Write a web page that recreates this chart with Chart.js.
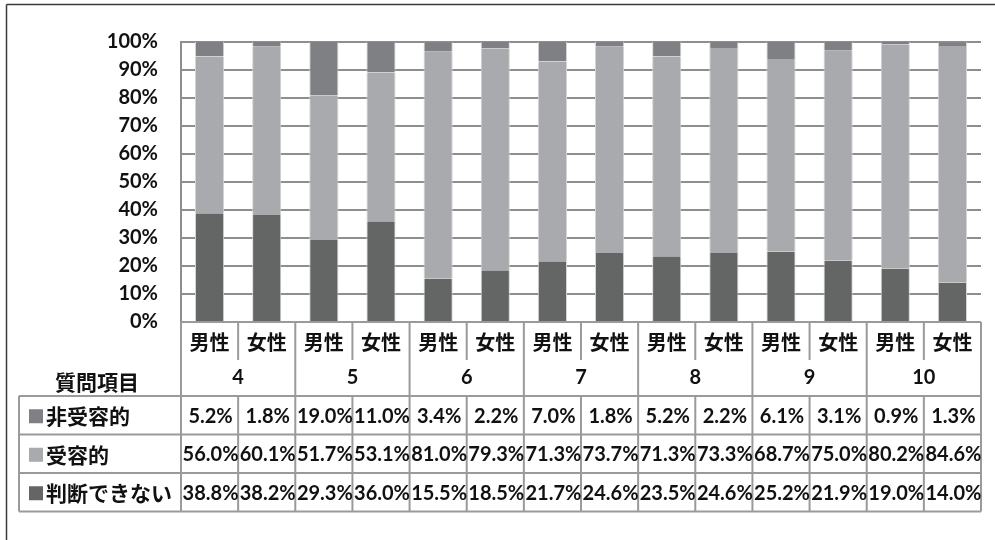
<!DOCTYPE html>
<html lang="ja">
<head>
<meta charset="utf-8">
<script src="https://cdn.jsdelivr.net/npm/chart.js@4/dist/chart.umd.min.js"></script>
<style>
  html, body { margin: 0; padding: 0; background: #fff; }
  #wrap { position: relative; width: 995px; height: 540px; }
</style>
</head>
<body>
<div id="wrap"><canvas id="c" width="995" height="540"></canvas></div>
<script>
// Question numbers and the two respondent groups under each one
const questions = ['4', '5', '6', '7', '8', '9', '10'];
const genders = ['男性', '女性'];

// Share of answers (%) per column, in order 4男,4女,5男,5女,...
const nonAccepting = [5.2, 1.8, 19.0, 11.0, 3.4, 2.2, 7.0, 1.8, 5.2, 2.2, 6.1, 3.1, 0.9, 1.3];
const accepting    = [56.0, 60.1, 51.7, 53.1, 81.0, 79.3, 71.3, 73.7, 71.3, 73.3, 68.7, 75.0, 80.2, 84.6];
const undecided    = [38.8, 38.2, 29.3, 36.0, 15.5, 18.5, 21.7, 24.6, 23.5, 24.6, 25.2, 21.9, 19.0, 14.0];

const seriesNames = { non: '非受容的', acc: '受容的', und: '判断できない' };
const rowHeader = '質問項目';
const yTicks = [0, 10, 20, 30, 40, 50, 60, 70, 80, 90, 100];

const colors = { non: '#7f8083', acc: '#a9aaad', und: '#646565' };
const gridColor = '#8e8e8e';
const tableLine = '#9a9a9a';

const labels = [];
questions.forEach(q => genders.forEach(g => labels.push(q + ' ' + g)));

const NUM_FONT = 'bold 20px Lato, "Liberation Sans", sans-serif';
const CJK_FONT = 'bold 20px "Noto Sans CJK JP", sans-serif';

// Data table under the plot, aligned with the category scale
const tablePlugin = {
  id: 'dataTable',
  afterDraw(chart) {
    const ctx = chart.ctx;
    const xs = chart.scales.x;
    const area = chart.chartArea;
    const n = labels.length;
    const colW = (area.right - area.left) / n;
    const left = area.left, right = area.right;
    const top = area.bottom;          // 322
    const rowGender = top + 38;       // 360
    const rowQ = top + 74;            // 396
    const rowH = 38.5;
    const tableLeft = 19;
    const rows = [
      { name: seriesNames.non, data: nonAccepting, color: colors.non },
      { name: seriesNames.acc, data: accepting, color: colors.acc },
      { name: seriesNames.und, data: undecided, color: colors.und }
    ];
    const bottom = rowQ + rowH * rows.length;

    ctx.save();
    ctx.strokeStyle = tableLine;
    ctx.lineWidth = 2;
    const line = (x1, y1, x2, y2) => { ctx.beginPath(); ctx.moveTo(x1, y1); ctx.lineTo(x2, y2); ctx.stroke(); };

    // horizontal rules
    line(left, top, right, top);
    for (let r = 0; r <= rows.length; r++) {
      const y = rowQ + r * rowH;
      line(tableLeft, y, right, y);
    }
    // vertical rules
    line(tableLeft, rowQ, tableLeft, bottom);
    for (let i = 0; i <= n; i++) {
      const x = left + i * colW;
      if (i === 0 || i === n) {
        line(x, top, x, bottom);
      } else if (i % 2 === 0) {
        line(x, top, x, rowQ);
        line(x, rowQ, x, bottom);
      } else {
        line(x, top, x, rowGender);
        line(x, rowQ, x, bottom);
      }
    }

    ctx.fillStyle = '#111';
    ctx.textAlign = 'center';
    ctx.textBaseline = 'middle';

    // gender labels
    ctx.font = CJK_FONT;
    for (let i = 0; i < n; i++) {
      ctx.fillText(genders[i % 2], xs.getPixelForValue(i), top + 20);
    }
    // question numbers
    ctx.font = NUM_FONT;
    questions.forEach((q, k) => {
      const cx = (xs.getPixelForValue(2 * k) + xs.getPixelForValue(2 * k + 1)) / 2;
      ctx.fillText(q, cx, rowGender + 18);
    });
    // row header
    ctx.font = 'bold 21px "Noto Sans CJK JP", sans-serif';
    ctx.fillText(rowHeader, 97, rowGender + 22);

    // series rows
    rows.forEach((row, r) => {
      const cy = rowQ + r * rowH + rowH / 2 + 1;
      ctx.fillStyle = row.color;
      ctx.fillRect(29, cy - 7, 14, 14);
      ctx.fillStyle = '#111';
      ctx.textAlign = 'left';
      ctx.font = 'bold 21px "Noto Sans CJK JP", sans-serif';
      ctx.fillText(row.name, 46, cy);
      ctx.textAlign = 'center';
      ctx.font = NUM_FONT;
      row.data.forEach((v, i) => {
        ctx.fillText(v.toFixed(1) + '%', xs.getPixelForValue(i) + 1, cy);
      });
    });

    // outer frame
    ctx.strokeStyle = '#3a3a3a';
    ctx.lineWidth = 1.5;
    line(6.5, 4.5, 995, 4.5);
    line(6.5, 4.5, 6.5, 540);
    ctx.restore();
  }
};

const barStyle = { borderColor: '#d4d4d4', borderWidth: { left: 1, right: 1, top: 0, bottom: 0 }, borderSkipped: false };

new Chart(document.getElementById('c'), {
  type: 'bar',
  data: {
    labels,
    datasets: [
      { label: seriesNames.und, data: undecided, backgroundColor: colors.und, ...barStyle },
      { label: seriesNames.acc, data: accepting, backgroundColor: colors.acc, ...barStyle },
      { label: seriesNames.non, data: nonAccepting, backgroundColor: colors.non, ...barStyle }
    ]
  },
  options: {
    responsive: false,
    animation: false,
    events: [],
    layout: { padding: { left: 0, right: 14, top: 42, bottom: 218 } },
    datasets: { bar: { categoryPercentage: 1.0, barPercentage: 0.51 } },
    plugins: { legend: { display: false }, tooltip: { enabled: false } },
    scales: {
      x: { stacked: true, display: false },
      y: {
        stacked: true,
        min: 0,
        max: 100,
        afterBuildTicks(scale) { scale.ticks = yTicks.map(v => ({ value: v })); },
        afterFit(scale) { scale.width = 181; },
        ticks: {
          callback: v => v + '%',
          color: '#111',
          font: { family: 'Lato, "Liberation Sans", sans-serif', size: 20, weight: 'bold' },
          padding: 23
        },
        grid: { color: gridColor, lineWidth: 2, drawTicks: false },
        border: { display: true, color: gridColor, width: 2 }
      }
    }
  },
  plugins: [tablePlugin]
});
</script>
</body>
</html>
